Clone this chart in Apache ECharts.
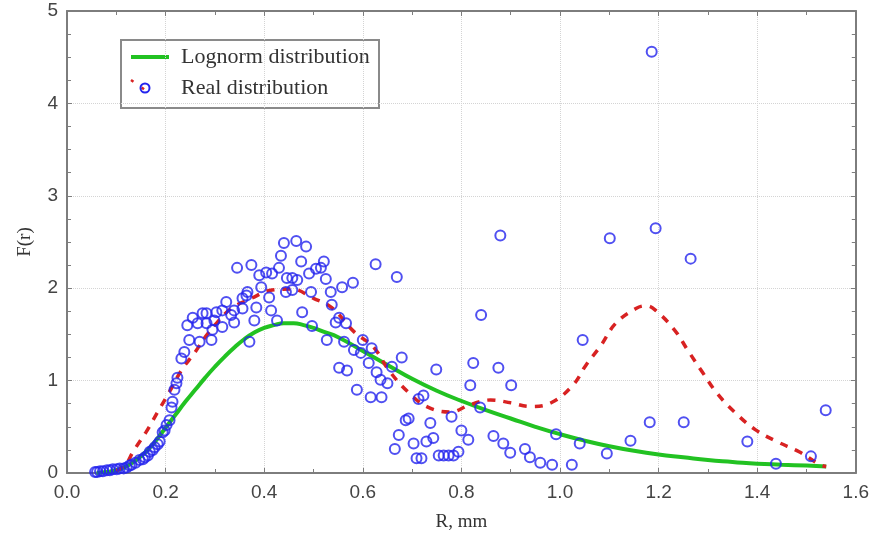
<!DOCTYPE html>
<html>
<head>
<meta charset="utf-8">
<script src="https://cdn.jsdelivr.net/npm/echarts@6/dist/echarts.min.js"></script>
<style>
  html, body { margin: 0; padding: 0; background: #fff; }
  #chart { width: 872px; height: 542px; }
</style>
</head>
<body>
<div id="chart"></div>
<script>
// Fitted lognormal density
var lognormR = [0.06, 0.08, 0.10, 0.12, 0.14, 0.16, 0.18, 0.20, 0.22, 0.24, 0.26, 0.28, 0.30, 0.32, 0.34, 0.36, 0.38, 0.40, 0.42, 0.44, 0.46, 0.48, 0.50, 0.52, 0.55, 0.60, 0.65, 0.70, 0.75, 0.80, 0.85, 0.90, 0.95, 1.00, 1.05, 1.10, 1.15, 1.20, 1.25, 1.30, 1.35, 1.40, 1.45, 1.50, 1.54];
var lognormF = [0.00, 0.01, 0.03, 0.07, 0.14, 0.23, 0.35, 0.49, 0.63, 0.77, 0.90, 1.03, 1.15, 1.26, 1.36, 1.45, 1.52, 1.57, 1.60, 1.62, 1.62, 1.60, 1.57, 1.53, 1.47, 1.32, 1.17, 1.02, 0.89, 0.78, 0.68, 0.59, 0.50, 0.42, 0.35, 0.29, 0.24, 0.20, 0.17, 0.14, 0.12, 0.10, 0.09, 0.08, 0.07];

// Smoothed empirical distribution
var realLineR = [0.10, 0.12, 0.134, 0.16, 0.184, 0.208, 0.232, 0.26, 0.283, 0.303, 0.333, 0.374, 0.416, 0.457, 0.50, 0.537, 0.582, 0.622, 0.653, 0.693, 0.733, 0.778, 0.818, 0.859, 0.90, 0.94, 0.982, 1.026, 1.053, 1.083, 1.113, 1.154, 1.175, 1.194, 1.232, 1.259, 1.289, 1.319, 1.356, 1.396, 1.44, 1.485, 1.527, 1.54];
var realLineF = [0.02, 0.10, 0.23, 0.44, 0.66, 0.88, 1.11, 1.31, 1.49, 1.62, 1.78, 1.89, 1.98, 1.99, 1.89, 1.79, 1.53, 1.36, 1.11, 0.87, 0.71, 0.66, 0.74, 0.79, 0.76, 0.72, 0.76, 0.95, 1.17, 1.38, 1.62, 1.78, 1.81, 1.76, 1.55, 1.33, 1.09, 0.86, 0.65, 0.47, 0.34, 0.23, 0.09, 0.07];

// Measured points
var pointR = [0.057, 0.061, 0.067, 0.073, 0.081, 0.087, 0.093, 0.101, 0.107, 0.115, 0.121, 0.127, 0.131, 0.139, 0.147, 0.154, 0.158, 0.164, 0.168, 0.174, 0.178, 0.184, 0.188, 0.194, 0.198, 0.202, 0.208, 0.212, 0.214, 0.218, 0.222, 0.224, 0.232, 0.238, 0.248, 0.244, 0.255, 0.265, 0.269, 0.275, 0.283, 0.283, 0.293, 0.295, 0.299, 0.303, 0.315, 0.315, 0.323, 0.333, 0.339, 0.339, 0.345, 0.356, 0.356, 0.364, 0.366, 0.370, 0.374, 0.380, 0.384, 0.390, 0.394, 0.404, 0.410, 0.414, 0.416, 0.426, 0.430, 0.434, 0.440, 0.444, 0.446, 0.457, 0.457, 0.465, 0.467, 0.475, 0.477, 0.485, 0.491, 0.495, 0.497, 0.505, 0.515, 0.521, 0.525, 0.527, 0.535, 0.537, 0.545, 0.552, 0.558, 0.562, 0.566, 0.552, 0.568, 0.580, 0.582, 0.588, 0.596, 0.600, 0.612, 0.616, 0.618, 0.626, 0.628, 0.636, 0.638, 0.650, 0.659, 0.665, 0.669, 0.673, 0.679, 0.687, 0.693, 0.703, 0.709, 0.713, 0.719, 0.723, 0.729, 0.737, 0.743, 0.749, 0.754, 0.764, 0.774, 0.784, 0.780, 0.794, 0.800, 0.814, 0.818, 0.824, 0.838, 0.840, 0.865, 0.875, 0.879, 0.885, 0.899, 0.901, 0.929, 0.939, 0.960, 0.984, 0.992, 1.024, 1.040, 1.046, 1.095, 1.101, 1.143, 1.182, 1.186, 1.194, 1.251, 1.265, 1.380, 1.438, 1.509, 1.539];
var pointF = [0.01, 0.01, 0.02, 0.02, 0.03, 0.03, 0.04, 0.04, 0.05, 0.05, 0.06, 0.08, 0.09, 0.11, 0.14, 0.15, 0.17, 0.19, 0.23, 0.25, 0.28, 0.31, 0.34, 0.44, 0.46, 0.52, 0.57, 0.71, 0.77, 0.90, 0.97, 1.03, 1.24, 1.31, 1.44, 1.60, 1.68, 1.62, 1.42, 1.73, 1.62, 1.73, 1.44, 1.55, 1.65, 1.74, 1.76, 1.58, 1.85, 1.71, 1.63, 1.76, 2.22, 1.78, 1.89, 1.92, 1.96, 1.42, 2.25, 1.65, 1.79, 2.14, 2.01, 2.17, 1.90, 1.76, 2.16, 1.65, 2.22, 2.35, 2.49, 1.96, 2.11, 1.98, 2.11, 2.51, 2.09, 2.29, 1.74, 2.45, 2.16, 1.96, 1.59, 2.21, 2.22, 2.29, 2.10, 1.44, 1.96, 1.82, 1.63, 1.68, 2.01, 1.42, 1.62, 1.14, 1.11, 2.06, 1.33, 0.90, 1.30, 1.44, 1.19, 0.82, 1.35, 2.26, 1.09, 1.01, 0.82, 0.97, 1.15, 0.26, 2.12, 0.41, 1.25, 0.57, 0.59, 0.32, 0.16, 0.80, 0.16, 0.84, 0.34, 0.54, 0.38, 1.12, 0.19, 0.19, 0.19, 0.19, 0.61, 0.23, 0.46, 0.36, 0.95, 1.19, 0.71, 1.71, 0.40, 1.14, 2.57, 0.32, 0.22, 0.95, 0.26, 0.17, 0.11, 0.09, 0.42, 0.09, 0.32, 1.44, 0.21, 2.54, 0.35, 0.55, 4.56, 2.65, 0.55, 2.32, 0.34, 0.10, 0.18, 0.68];

var legendLabels = ['Lognorm distribution', 'Real distribution'];
var xAxisTitle = 'R, mm';
var yAxisTitle = 'F(r)';

function zip(a, b) {
  var out = [];
  for (var i = 0; i < a.length; i++) out.push([a[i], b[i]]);
  return out;
}

var frameColor = '#7d7d7d';
var gridColor = '#d4d4d4';
var serif = '"Liberation Serif", "DejaVu Serif", serif';
var sans = '"Liberation Sans", Arial, sans-serif';

var chart = echarts.init(document.getElementById('chart'), null, { renderer: 'canvas' });

function baseX(extra) {
  return Object.assign({
    type: 'value', min: 0, max: 1.6, interval: 0.2,
    axisLine: { show: true, onZero: false, lineStyle: { color: frameColor, width: 2 } },
    axisTick: { show: true, inside: true, length: 5, lineStyle: { color: frameColor } },
    minorTick: { show: true, splitNumber: 2, length: 4, lineStyle: { color: frameColor } },
    splitLine: { show: false }
  }, extra);
}
function baseY(extra) {
  return Object.assign({
    type: 'value', min: 0, max: 5, interval: 1,
    axisLine: { show: true, onZero: false, lineStyle: { color: frameColor, width: 2 } },
    axisTick: { show: true, inside: true, length: 5, lineStyle: { color: frameColor } },
    minorTick: { show: true, splitNumber: 4, length: 4, lineStyle: { color: frameColor } },
    splitLine: { show: false }
  }, extra);
}

chart.setOption({
  animation: false,
  backgroundColor: '#ffffff',
  grid: { left: 67, right: 13, top: 11, bottom: 69 },
  xAxis: [
    baseX({
      position: 'bottom',
      name: xAxisTitle, nameLocation: 'middle', nameGap: 40,
      nameTextStyle: { fontFamily: serif, fontSize: 19, color: '#333' },
      axisLabel: { show: true, margin: 10, fontFamily: sans, fontSize: 19, color: '#444',
        formatter: function (v) { return v.toFixed(1); } },
      splitLine: { show: true, lineStyle: { color: gridColor, type: 'dotted', width: 1 } }
    }),
    baseX({ position: 'top', axisLabel: { show: false } })
  ],
  yAxis: [
    baseY({
      position: 'left',
      name: yAxisTitle, nameLocation: 'middle', nameGap: 32, nameRotate: 90,
      nameTextStyle: { fontFamily: serif, fontSize: 19, color: '#333' },
      axisLabel: { show: true, margin: 9, fontFamily: sans, fontSize: 19, color: '#444' },
      splitLine: { show: true, lineStyle: { color: gridColor, type: 'dotted', width: 1 } }
    }),
    baseY({ position: 'right', axisLabel: { show: false } })
  ],
  series: [
    {
      name: legendLabels[0], type: 'line', smooth: 0.5, showSymbol: false,
      data: zip(lognormR, lognormF),
      lineStyle: { color: '#22c222', width: 4 }, z: 2
    },
    {
      name: legendLabels[1], type: 'line', smooth: 0.4, showSymbol: false,
      data: zip(realLineR, realLineF),
      lineStyle: { color: '#d82222', width: 3.5, type: [8, 8] }, z: 3
    },
    {
      name: legendLabels[1], type: 'scatter', symbol: 'circle', symbolSize: 10,
      data: zip(pointR, pointF),
      itemStyle: { color: 'rgba(0,0,0,0)', borderColor: '#2424ee', borderWidth: 2 }, z: 4
    }
  ],
  graphic: [
    {
      type: 'group', left: 120, top: 39, z: 10,
      children: [
        { type: 'rect', shape: { x: 0, y: 0, width: 258, height: 68 },
          style: { fill: '#ffffff', stroke: '#8a8a8a', lineWidth: 2 } },
        { type: 'line', shape: { x1: 10, y1: 17, x2: 48, y2: 17 },
          style: { stroke: '#22c222', lineWidth: 4 } },
        { type: 'text', x: 60, y: 17,
          style: { text: legendLabels[0], font: '22px ' + serif, fill: '#333', textVerticalAlign: 'middle' } },
        { type: 'line', shape: { x1: 10, y1: 40, x2: 31, y2: 55 },
          style: { stroke: '#d82222', lineWidth: 2.5, lineDash: [3, 10] } },
        { type: 'circle', shape: { cx: 24, cy: 48, r: 4.5 },
          style: { fill: 'none', stroke: '#2424ee', lineWidth: 2 } },
        { type: 'text', x: 60, y: 48,
          style: { text: legendLabels[1], font: '22px ' + serif, fill: '#333', textVerticalAlign: 'middle' } }
      ]
    }
  ]
});
</script>
</body>
</html>
